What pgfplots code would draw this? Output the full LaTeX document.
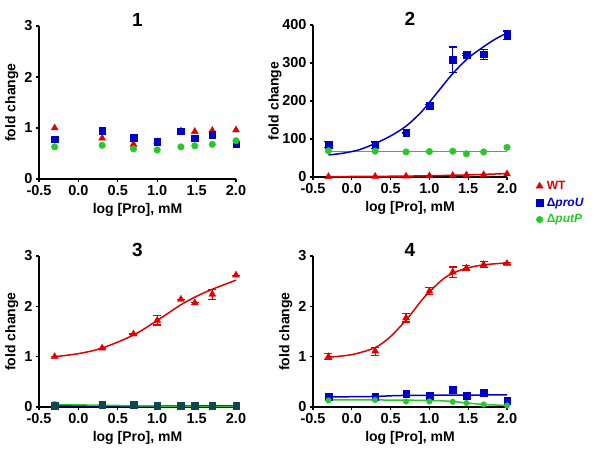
\documentclass[border=0pt]{standalone}
\usepackage{pgfplots}
\pgfplotsset{compat=1.18}
\usepackage{fontspec}
\setmainfont{Liberation Sans}
\definecolor{cred}{RGB}{225,0,0}
\definecolor{cblue}{RGB}{0,0,200}
\definecolor{cgreen}{RGB}{40,200,40}
\pgfplotsset{
 panel/.style={
  scale only axis, width=197pt, height=153pt,
  axis x line*=bottom, axis y line*=left,
  axis line style={line width=1.8pt, black},
  xmin=-0.5, xmax=2.0,
  xtick={-0.5,0,0.5,1,1.5,2},
  /pgf/number format/assume math mode=true,
  ticklabel style={font=\bfseries\fontsize{14.5}{15}\selectfont},
  xticklabel style={/pgf/number format/.cd, fixed, fixed zerofill, precision=1},
  yticklabel style={/pgf/number format/.cd, fixed, precision=0},
  tick align=outside, major tick length=3pt, tick style={line width=1.2pt,black},
  xlabel={log [Pro], mM}, ylabel={fold change},
  label style={font=\bfseries\fontsize{14}{14}\selectfont},
  xlabel style={at={(axis description cs:0.5,0)}, anchor=center, yshift=-31pt},
  ylabel style={at={(axis description cs:-0.138,0.5)}, anchor=center},
  title style={font=\bfseries\fontsize{19}{19}\selectfont, at={(axis description cs:0.5,1)}, anchor=center, yshift=0pt},
  clip=false,
 },
 tri/.style={only marks, mark=triangle*, mark size=4pt, color=cred},
 sq/.style={only marks, mark=square*, mark size=3.3pt, color=cblue},
 circ/.style={only marks, mark=*, mark size=3.3pt, color=cgreen},
 fitline/.style={no marks, line width=1.5pt, smooth},
 eb/.style={error bars/.cd, y dir=both, y explicit, error bar style={line width=1.2pt}, error mark options={rotate=90, mark size=4pt, line width=1.2pt}},
 y3/.style={ymin=0, ymax=3, ytick={0,1,2,3}},
}
\begin{document}
\begin{tikzpicture}
\useasboundingbox (0,0) rectangle (601pt,454pt);
% Panel 1
\begin{axis}[panel, y3, title={1}, at={(39pt,275pt)}, anchor=south west]
\addplot[tri] coordinates {(-0.301,1.00) (0.301,0.80) (0.699,0.68) (1.0,0.73) (1.301,0.94) (1.477,0.93) (1.699,0.95) (2.0,0.96)};
\addplot[sq] coordinates {(-0.301,0.78) (0.301,0.95) (0.699,0.81) (1.0,0.73) (1.301,0.94) (1.477,0.80) (1.699,0.87) (2.0,0.68)};
\addplot[circ] coordinates {(-0.301,0.63) (0.301,0.66) (0.699,0.59) (1.0,0.57) (1.301,0.63) (1.477,0.65) (1.699,0.68) (2.0,0.75)};
\end{axis}
% Panel 2
\begin{axis}[panel, width=194pt, height=152pt, ymin=0, ymax=400, ytick={0,100,200,300,400}, title={2}, at={(313pt,277pt)}, anchor=south west,
 ylabel style={at={(axis description cs:-0.196,0.5)}},
 legend image code/.code={\path (-4pt,0pt) (5pt,0pt); \draw[#1] plot coordinates {(0pt,0pt)};},
 legend style={draw=none, fill=none, at={(1.13,0.0)}, anchor=north west, font=\bfseries\fontsize{12}{12}\selectfont, row sep=3pt, cells={anchor=west}}]
\addplot[fitline, cred, forget plot] coordinates {(-0.3,1) (0.5,2) (1.0,3.2) (1.5,5.5) (2.0,9)};
\addplot[fitline, cgreen, forget plot] coordinates {(-0.3,67) (2.0,67)};
\addplot[fitline, cblue, forget plot] coordinates {(-0.3,58) (-0.1,63) (0.1,72) (0.3,88) (0.5,108) (0.7,134) (0.9,172) (1.1,222) (1.3,272) (1.5,313) (1.7,343) (1.85,363) (2.0,379)};
\addplot[tri] coordinates {(-0.301,1) (0.301,1.5) (0.699,2) (1.0,3) (1.301,4) (1.477,5) (1.699,6) (2.0,8)};
\addlegendentry{\textcolor{cred}{WT}}
\addplot[sq, eb] coordinates {(-0.301,85) +- (0,8) (0.301,84) +- (0,8) (0.699,116) +- (0,0) (1.0,188) +- (0,3) (1.301,308) +- (0,34) (1.477,322) +- (0,3) (1.699,323) +- (0,13) (2.0,373) +- (0,11)};
\addlegendentry{\textcolor{cblue}{Δ\textit{proU}}}
\addplot[circ] coordinates {(-0.301,69) (0.301,68) (0.699,66) (1.0,67) (1.301,68) (1.477,61) (1.699,66) (2.0,78)};
\addlegendentry{\textcolor{cgreen}{Δ\textit{putP}}}
\end{axis}
% Panel 3
\begin{axis}[panel, y3, height=151pt, title={3}, at={(39pt,47pt)}, anchor=south west]
\addplot[fitline, cred] coordinates {(-0.3,1.0) (0.0,1.06) (0.3,1.17) (0.7,1.43) (1.0,1.72) (1.3,2.03) (1.5,2.2) (1.7,2.34) (2.0,2.52)};
\addplot[tri, eb] coordinates {(-0.301,1.0) +- (0,0) (0.301,1.17) +- (0,0) (0.699,1.45) +- (0,0) (1.0,1.72) +- (0,0.09) (1.301,2.14) +- (0,0) (1.477,2.07) +- (0,0) (1.699,2.24) +- (0,0.1) (2.0,2.62) +- (0,0)};
\addplot[fitline, cblue!60!black] coordinates {(-0.3,0.02) (2.0,0.02)};
\addplot[circ] coordinates {(-0.301,0.05) (0.301,0.04) (0.699,0.03) (1.0,0.02) (1.301,0.02) (1.477,0.02) (1.699,0.01) (2.0,0.01)};
\addplot[sq, color=cblue!50!cgreen!70!black] coordinates {(-0.301,0.02) (0.301,0.05) (0.699,0.04) (1.0,0.02) (1.301,0.02) (1.477,0.03) (1.699,0.02) (2.0,0.02)};
\addplot[fitline, cgreen] coordinates {(-0.3,0.05) (0.3,0.035) (1.0,0.02) (2.0,0.01)};
\end{axis}
% Panel 4
\begin{axis}[panel, y3, width=194pt, height=151pt, title={4}, at={(313pt,47pt)}, anchor=south west,
 ylabel style={at={(axis description cs:-0.14,0.5)}}]
\addplot[fitline, cred] coordinates {(-0.3,0.99) (0.0,1.04) (0.3,1.18) (0.5,1.40) (0.7,1.73) (0.8,1.92) (0.9,2.12) (1.0,2.29) (1.2,2.57) (1.4,2.72) (1.6,2.80) (1.8,2.84) (2.0,2.86)};
\addplot[tri, eb] coordinates {(-0.301,1.0) +- (0,0.06) (0.301,1.11) +- (0,0.08) (0.699,1.77) +- (0,0.08) (1.0,2.30) +- (0,0.07) (1.301,2.68) +- (0,0.1) (1.477,2.76) +- (0,0.05) (1.699,2.83) +- (0,0.06) (2.0,2.85) +- (0,0.02)};
\addplot[fitline, cblue] coordinates {(-0.3,0.20) (0.3,0.21) (0.7,0.23) (2.0,0.24)};
\addplot[sq] coordinates {(-0.301,0.21) (0.301,0.20) (0.699,0.26) (1.0,0.22) (1.301,0.34) (1.477,0.22) (1.699,0.28) (2.0,0.13)};
\addplot[fitline, cgreen] coordinates {(-0.3,0.14) (0.3,0.14) (1.0,0.13) (1.3,0.11) (1.477,0.08) (1.699,0.05) (2.0,0.03)};
\addplot[circ, mark size=2.8pt] coordinates {(-0.301,0.13) (0.301,0.14) (0.699,0.11) (1.0,0.11) (1.301,0.105) (1.477,0.08) (1.699,0.05) (2.0,0.03)};
\end{axis}
\end{tikzpicture}
\end{document}
